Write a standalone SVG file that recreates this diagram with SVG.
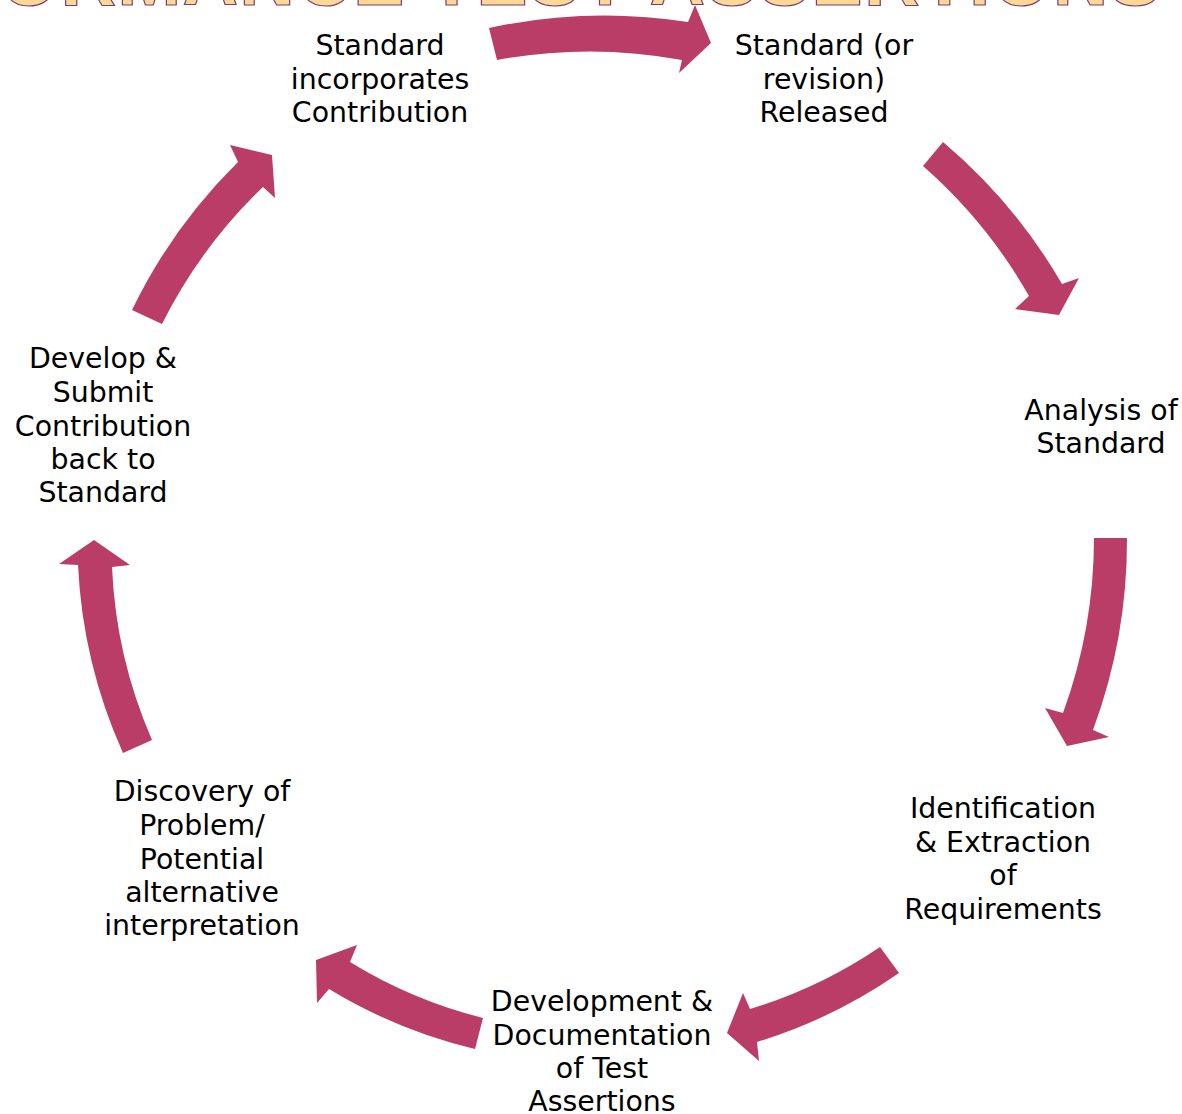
<svg xmlns="http://www.w3.org/2000/svg" width="1182" height="1114" viewBox="0 0 1182 1114">
<style>
.t{font-family:"DejaVu Sans",sans-serif;font-size:28.4px;fill:#000;text-anchor:middle}
.a{fill:#B93D67}
.title{font-family:"Liberation Sans",Arial,sans-serif;font-weight:bold;font-size:77px;fill:#FCD898;stroke:#7D3C6E;stroke-width:1.2px;letter-spacing:1.2px;text-anchor:end}
</style>
<rect width="1182" height="1114" fill="#fff"/>
<text class="title" x="1162" y="5">CONFORMANCE TEST ASSERTIONS</text>
<g id="connectors">
<path class="a" d="M489,28 A544,544 0 0 1 688,22 L695,5 L711,43 L679,73 L682,60 A509,509 0 0 0 497,60 Z"/>
<path class="a" d="M943,142 A540,540 0 0 1 1062,284 L1079,278 L1059,315 L1015,309 L1029,296 A505,505 0 0 0 923,166 Z"/>
<path class="a" d="M1127,538 A545,545 0 0 1 1093,730 L1109,737 L1067,746 L1045,708 L1063,713 A510,510 0 0 0 1094,538 Z"/>
<path class="a" d="M899,973 A510,510 0 0 1 757,1042 L759,1061 L727,1033 L743,993 L750,1009 A475,475 0 0 0 880,947 Z"/>
<path class="a" d="M475,1049 A506,506 0 0 1 329,989 L317,1003 L316,960 L357,945 L350,962 A473,473 0 0 0 483,1018 Z"/>
<path class="a" d="M123,753 A518,518 0 0 1 78,565 L59,564 L94,540 L130,565 L112,567 A485,485 0 0 0 152,740 Z"/>
<path class="a" d="M132,310 A535,535 0 0 1 238,162 L230,145 L272,155 L275,198 L263,187 A500,500 0 0 0 162,324 Z"/>
</g>
<g id="node-incorporates"><text class="t" x="380" y="55">Standard</text><text class="t" x="380" y="89">incorporates</text><text class="t" x="380" y="122">Contribution</text></g>
<g id="node-released"><text class="t" x="824" y="55">Standard (or</text><text class="t" x="824" y="89">revision)</text><text class="t" x="824" y="122">Released</text></g>
<g id="node-analysis"><text class="t" x="1101" y="420">Analysis of</text><text class="t" x="1101" y="453">Standard</text></g>
<g id="node-identification"><text class="t" x="1003" y="818">Identification</text><text class="t" x="1003" y="852">&amp; Extraction</text><text class="t" x="1003" y="885">of</text><text class="t" x="1003" y="919">Requirements</text></g>
<g id="node-development"><text class="t" x="602" y="1011">Development &amp;</text><text class="t" x="602" y="1045">Documentation</text><text class="t" x="602" y="1078">of Test</text><text class="t" x="602" y="1111">Assertions</text></g>
<g id="node-discovery"><text class="t" x="202" y="801">Discovery of</text><text class="t" x="202" y="835">Problem/</text><text class="t" x="202" y="869">Potential</text><text class="t" x="202" y="902">alternative</text><text class="t" x="202" y="935">interpretation</text></g>
<g id="node-develop"><text class="t" x="103" y="368">Develop &amp;</text><text class="t" x="103" y="402">Submit</text><text class="t" x="103" y="436">Contribution</text><text class="t" x="103" y="469">back to</text><text class="t" x="103" y="502">Standard</text></g>
</svg>
